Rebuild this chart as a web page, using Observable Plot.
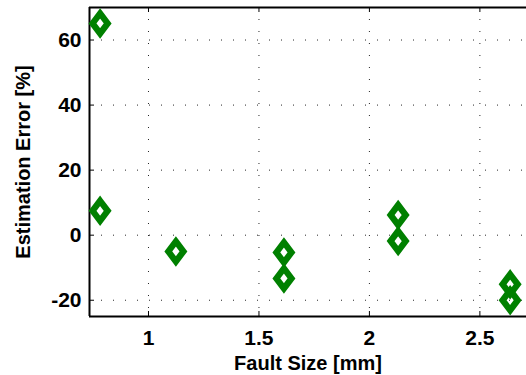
<!DOCTYPE html>
<html>
<head>
<meta charset="utf-8">
<script src="https://cdn.jsdelivr.net/npm/d3@7"></script>
<script src="https://cdn.jsdelivr.net/npm/@observablehq/plot@0.6"></script>
<style>
  html, body { margin: 0; padding: 0; background: #fff; }
  svg { display: block; }
  #chart svg text { font-family: 'Liberation Sans', Arial, sans-serif !important; font-weight: bold !important; font-size: 21px !important; }
  #chart svg g[aria-label$="axis label"] text { font-size: 20px !important; }
</style>
</head>
<body>
<div id="chart"></div>
<script>
const faultSize = [0.781, 0.781, 1.124, 1.613, 1.613, 2.130, 2.130, 2.637, 2.637];
const estError  = [65.1, 7.5, -5.0, -5.3, -13.3, 6.2, -1.8, -15.1, -20.0];
const xTicks = [1, 1.5, 2, 2.5];
const yTicks = [-20, 0, 20, 40, 60];
const xDomain = [0.733, 2.711];
const yDomain = [-25, 70];

const data = faultSize.map((x, i) => ({x, y: estError[i]}));

// MATLAB-style elongated diamond
const matlabDiamond = {
  draw(context, size) {
    const r = Math.sqrt(size / Math.PI);
    const a = r * 0.755;
    context.moveTo(0, -r);
    context.lineTo(a, 0);
    context.lineTo(0, r);
    context.lineTo(-a, 0);
    context.closePath();
  }
};

const W = 526, H = 375, mL = 89, mR = 0, mT = 7, mB = 59;
const pxX = (xDomain[1] - xDomain[0]) / (W - mL - mR);
const pxY = (yDomain[1] - yDomain[0]) / (H - mT - mB);
const tk = 5;

const fam = "'Liberation Sans', Arial, sans-serif";

const chart = Plot.plot({
  width: W, height: H,
  marginLeft: mL, marginRight: mR, marginTop: mT, marginBottom: mB,
  style: {fontFamily: fam, fontWeight: "bold", fontSize: "20px", color: "#000", background: "#fff"},
  x: {domain: xDomain},
  y: {domain: yDomain},
  marks: [
    Plot.gridX(xTicks, {stroke: "#000", strokeOpacity: 0.85, strokeWidth: 1, strokeDasharray: "1,11"}),
    Plot.gridY(yTicks, {stroke: "#000", strokeOpacity: 0.85, strokeWidth: 1, strokeDasharray: "1,11"}),
    // inward tick marks
    Plot.ruleX(xTicks, {y1: yDomain[0], y2: yDomain[0] + tk * pxY, stroke: "#000", strokeWidth: 1}),
    Plot.ruleX(xTicks, {y1: yDomain[1], y2: yDomain[1] - tk * pxY, stroke: "#000", strokeWidth: 1}),
    Plot.ruleY(yTicks, {x1: xDomain[0], x2: xDomain[0] + tk * pxX, stroke: "#000", strokeWidth: 1}),
    // axis box lines
    Plot.ruleY([yDomain[1]], {stroke: "#000", strokeWidth: 2}),
    Plot.ruleY([yDomain[0]], {stroke: "#000", strokeWidth: 2}),
    Plot.ruleX([xDomain[0]], {stroke: "#000", strokeWidth: 2}),
    Plot.axisX(xTicks, {
      tickSize: 0, tickPadding: 14, tickFormat: d => String(d),
      label: "Fault Size [mm]", labelAnchor: "center", labelOffset: 53, labelArrow: "none"
    }),
    Plot.axisY(yTicks, {
      tickSize: 0, tickPadding: 8, tickFormat: d => String(d),
      label: "Estimation Error [%]", labelAnchor: "center", labelOffset: 74, labelArrow: "none"
    }),
    Plot.dot(data, {
      x: "x", y: "y", r: 10, symbol: matlabDiamond,
      stroke: "#008000", strokeWidth: 6.3, fill: "none",
      strokeLinejoin: "miter", strokeMiterlimit: 10
    })
  ]
});

document.getElementById("chart").appendChild(chart);
</script>
</body>
</html>
